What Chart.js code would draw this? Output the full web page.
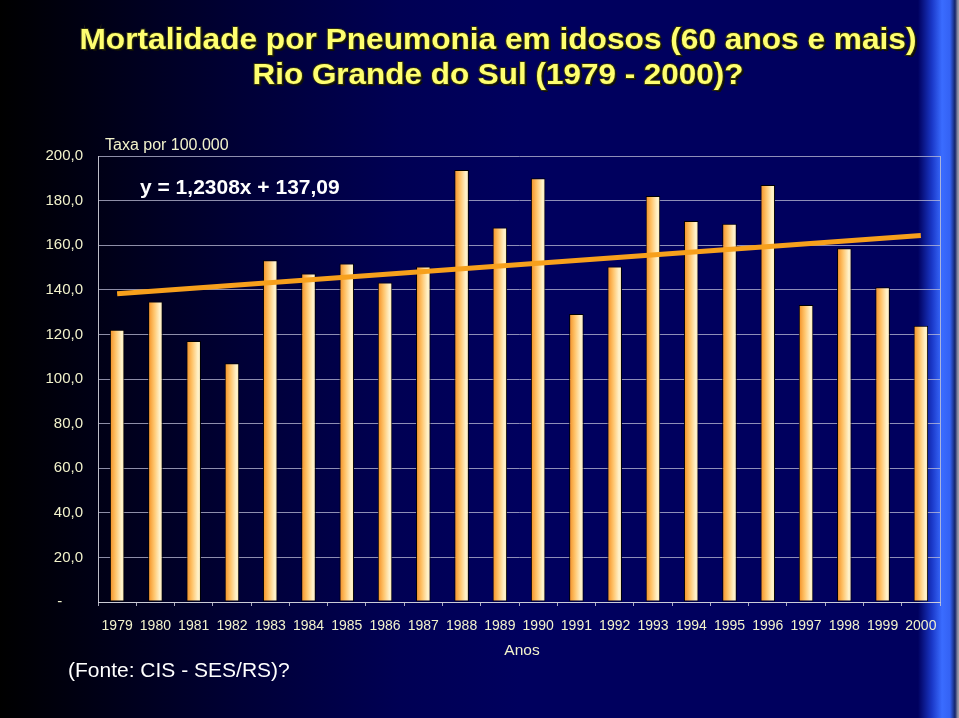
<!DOCTYPE html>
<html>
<head>
<meta charset="utf-8">
<script src="https://cdn.jsdelivr.net/npm/chart.js@4"></script>
<style>
  html, body { margin: 0; padding: 0; }
  body {
    width: 959px; height: 718px; overflow: hidden;
    background: linear-gradient(90deg, #000000 0px, #000014 90px, #000036 240px, #000054 400px,
      #00005e 520px, #00005e 918px, #1a38c8 932px, #3a6cff 942px, #3462f4 950px, #14246a 955px, #9a9aa8 958px);
  }
  #wrap { position: relative; width: 959px; height: 718px; }
</style>
</head>
<body>
<div id="wrap"><canvas id="myChart" width="959" height="718"></canvas></div>
<script>
// data
const years = ["1979", "1980", "1981", "1982", "1983", "1984", "1985", "1986", "1987", "1988", "1989",
  "1990", "1991", "1992", "1993", "1994", "1995", "1996", "1997", "1998", "1999", "2000"];
const rates = [122.1, 134.8, 117.0, 107.1, 153.3, 147.3, 151.8, 143.3, 150.4, 193.7, 167.9,
  190.0, 129.1, 150.4, 182.1, 170.9, 169.6, 187.0, 133.2, 158.6, 141.1, 123.9];
// trend line: only its two ends are read, the line joins them
const trend = [138.2, null, null, null, null, null, null, null, null, null, null,
  null, null, null, null, null, null, null, null, null, null, 164.3];
const yTicks = { min: 0, max: 200, step: 20 };

const titleLines = ["Mortalidade por Pneumonia em idosos (60 anos e mais)", "Rio Grande do Sul (1979 - 2000)?"];

// gradient on each bar, left orange to right cream
const barGradient = {
  id: "barGradient",
  beforeDatasetsDraw(chart) {
    const ctx = chart.ctx;
    chart.getDatasetMeta(1).data.forEach((el) => {
      if (!isFinite(el.x) || !isFinite(el.width)) return;
      const half = el.width / 2;
      const g = ctx.createLinearGradient(el.x - half, 0, el.x + half, 0);
      g.addColorStop(0, "#f28e22");
      g.addColorStop(0.4, "#ffc46a");
      g.addColorStop(0.8, "#fff3cc");
      g.addColorStop(1, "#ffe9b0");
      el.options = Object.assign({}, el.options, { backgroundColor: g });
    });
  },
};

// plot frame on the right side
const frame = {
  id: "frame",
  beforeDatasetsDraw(chart) {
    const a = chart.chartArea;
    const ctx = chart.ctx;
    ctx.save();
    ctx.strokeStyle = "rgba(200,200,215,0.8)";
    ctx.lineWidth = 1;
    ctx.beginPath();
    ctx.moveTo(Math.round(a.right) + 0.5, a.top);
    ctx.lineTo(Math.round(a.right) + 0.5, a.bottom);
    ctx.stroke();
    ctx.restore();
  },
};

// texts around the chart
const texts = {
  id: "texts",
  afterDraw(chart) {
    const ctx = chart.ctx;
    ctx.save();
    ctx.textBaseline = "middle";

    // title, two lines
    ctx.font = "bold 29px 'Liberation Sans', Arial, sans-serif";
    ctx.textAlign = "center";
    const widths = [837, 491];
    const ys = [41, 76];
    titleLines.forEach((t, i) => {
      const w = ctx.measureText(t).width;
      ctx.save();
      ctx.translate(498, ys[i]);
      ctx.scale(widths[i] / w, 1);
      ctx.fillStyle = "#101008";
      ctx.fillText(t, 2, 2);
      ctx.lineWidth = 2;
      ctx.strokeStyle = "#2a2a10";
      ctx.strokeText(t, 0, 0);
      ctx.fillStyle = "#ffff70";
      ctx.fillText(t, 0, 0);
      ctx.restore();
    });

    ctx.textAlign = "left";
    ctx.fillStyle = "#f2f2cc";
    ctx.font = "16px 'Liberation Sans', Arial, sans-serif";
    ctx.fillText("Taxa por 100.000", 105, 146);

    ctx.fillStyle = "#ffffff";
    ctx.font = "bold 21px 'Liberation Sans', Arial, sans-serif";
    ctx.fillText("y = 1,2308x + 137,09", 140, 188);

    ctx.fillStyle = "#f2f2cc";
    ctx.font = "15.5px 'Liberation Sans', Arial, sans-serif";
    ctx.textAlign = "center";
    ctx.fillText("Anos", 522, 651);

    ctx.fillStyle = "#ffffff";
    ctx.font = "21px 'Liberation Sans', Arial, sans-serif";
    ctx.textAlign = "left";
    ctx.fillText("(Fonte: CIS - SES/RS)?", 68, 671);
    ctx.restore();
  },
};

const ctx = document.getElementById("myChart").getContext("2d");
new Chart(ctx, {
  type: "bar",
  data: {
    labels: years,
    datasets: [
      {
        type: "line",
        data: trend,
        borderColor: "#f7a01c",
        borderWidth: 5,
        pointRadius: 0,
        spanGaps: true,
        order: 0,
      },
      {
        type: "bar",
        data: rates,
        backgroundColor: "#ffd080",
        borderColor: "#000000",
        borderWidth: 1,
        borderSkipped: false,
        barPercentage: 0.38,
        categoryPercentage: 1,
        order: 1,
      },
    ],
  },
  options: {
    responsive: false,
    devicePixelRatio: 1,
    animation: false,
    layout: { padding: { top: 156, right: 19, left: 0, bottom: 0 } },
    plugins: { legend: { display: false }, tooltip: { enabled: false }, title: { display: false } },
    scales: {
      x: {
        afterFit(scale) { scale.height = 116; },
        grid: {
          offset: true,
          drawOnChartArea: false,
          drawTicks: true,
          tickLength: 4,
          color: "rgba(200,200,215,0.85)",
        },
        border: { display: true, color: "rgba(210,210,220,0.9)", width: 1 },
        ticks: {
          color: "#f2f2cc",
          font: { family: "'Liberation Sans', Arial, sans-serif", size: 14 },
          padding: 12,
          autoSkip: false,
          maxRotation: 0,
        },
      },
      y: {
        min: yTicks.min,
        max: yTicks.max,
        afterFit(scale) { scale.width = 98; },
        grid: { color: "rgba(190,190,215,0.75)", drawTicks: false },
        border: { display: true, color: "rgba(210,210,220,0.9)", width: 1 },
        ticks: {
          stepSize: yTicks.step,
          padding: 15,
          color: "#f2f2cc",
          font: { family: "'Liberation Sans', Arial, sans-serif", size: 15 },
          callback: (v) => (v === 0 ? "-     " : v.toFixed(1).replace(".", ",")),
        },
      },
    },
  },
  plugins: [barGradient, frame, texts],
});
</script>
</body>
</html>
